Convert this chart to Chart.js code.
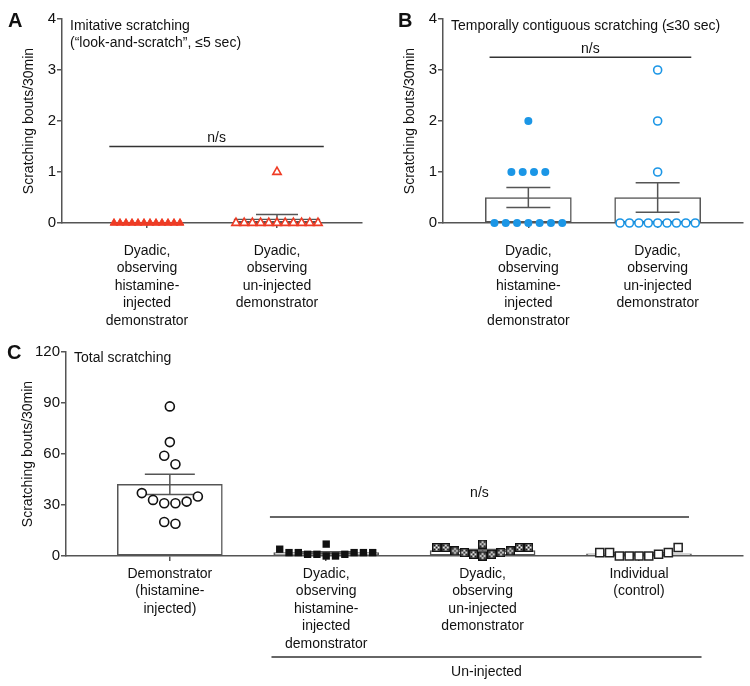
<!DOCTYPE html>
<html>
<head>
<meta charset="utf-8">
<script src="https://cdn.jsdelivr.net/npm/chart.js@4.4.1/dist/chart.umd.min.js"></script>
<style>
  body { margin: 0; background: #fff; }
  #wrap { position: relative; width: 750px; height: 686px; }
  .panel { position: absolute; }
</style>
</head>
<body>
<div id="wrap">
  <div class="panel" style="left:0;top:0;width:375px;height:330px"><canvas id="chart-a"></canvas></div>
  <div class="panel" style="left:375px;top:0;width:375px;height:330px"><canvas id="chart-b"></canvas></div>
  <div class="panel" style="left:0;top:330px;width:750px;height:356px"><canvas id="chart-c"></canvas></div>
</div>
<script>
// category labels
const dyadicHist = ['Dyadic,', 'observing', 'histamine-', 'injected', 'demonstrator'];
const dyadicUninj = ['Dyadic,', 'observing', 'un-injected', 'demonstrator'];
const demoLabel = ['Demonstrator', '(histamine-', 'injected)'];
const indivLabel = ['Individual', '(control)'];

// scratching bouts per animal
const imitativeHist = [0, 0, 0, 0, 0, 0, 0, 0, 0, 0, 0, 0];
const imitativeUninj = [0, 0, 0, 0, 0, 0, 1, 0, 0, 0, 0, 0];
const contiguousHist = [0, 0, 0, 1, 0, 2, 0, 1, 1, 0, 1, 0];
const contiguousUninj = [0, 0, 0, 0, 3, 2, 1, 0, 0, 0, 0, 0];
const totalDemo = [37, 33, 31, 19, 88, 67, 54, 59, 31, 20, 32, 35];
const totalHist = [4, 2, 2, 1, 1, 7, 0, 0, 1, 2, 2, 2];
const totalUninj = [5, 5, 3, 2, 1, 0, 7, 1, 2, 3, 5, 5];
const totalIndiv = [2, 2, 0, 0, 0, 0, 1, 2, 5];

const ticksAB = [0, 1, 2, 3, 4];
const ticksC = [0, 30, 60, 90, 120];

const FONT = "'Liberation Sans', Arial, sans-serif";
const AXIS = '#555';
const RED = '#ef3b24';
const BLUE = '#1b96e6';

function mean(a) { return a.reduce((s, v) => s + v, 0) / a.length; }
function sem(a) {
    const m = mean(a);
    const v = a.reduce((s, x) => s + (x - m) * (x - m), 0) / (a.length - 1);
    return Math.sqrt(v / a.length);
}

// prism-like scatter: values close in y share a row, rows are centred on the category
function swarm(values, center, gap, rowGap, rightFirst) {
    const order = values.map((v, i) => i).sort((a, b) => values[a] - values[b]);
    const rows = [];
    order.forEach(i => {
        const row = rows[rows.length - 1];
        if (row && values[i] - values[row[0]] < rowGap) row.push(i);
        else rows.push([i]);
    });
    const pts = [];
    rows.forEach(row => {
        const slots = row.map((_, k) => k - (row.length - 1) / 2);
        slots.sort((a, b) => Math.abs(a) - Math.abs(b) || (rightFirst ? b - a : a - b));
        row.forEach((i, k) => pts.push({ x: center + slots[k] * gap, y: values[i] }));
    });
    return pts;
}

function checkerMark(size) {
    const c = document.createElement('canvas');
    c.width = c.height = size;
    const g = c.getContext('2d');
    g.fillStyle = '#111';
    g.fillRect(0, 0, size, size);
    g.fillStyle = '#fff';
    g.fillRect(1.5, 1.5, size - 3, size - 3);
    g.fillStyle = '#111';
    const s = (size - 3) / 3;
    [[0, 0], [2, 0], [1, 1], [0, 2], [2, 2]].forEach(([i, j]) => g.fillRect(1.5 + i * s, 1.5 + j * s, s, s));
    return c;
}

function makePanel(id, p) {
    const groups = p.groups;

    const errorBars = {
        id: 'errorBars',
        afterDatasetDraw(chart, args) {
            if (args.index !== 0) return;
            const { ctx, scales: { x, y } } = chart;
            ctx.save();
            ctx.strokeStyle = AXIS;
            ctx.lineWidth = 1.5;
            groups.forEach((g, i) => {
                const m = mean(g.values), e = sem(g.values);
                if (e === 0) return;
                const cx = x.getPixelForValue(i + 1);
                const top = y.getPixelForValue(m + e), bot = y.getPixelForValue(m - e);
                ctx.beginPath();
                ctx.moveTo(cx, top); ctx.lineTo(cx, bot);
                ctx.moveTo(cx - p.cap, top); ctx.lineTo(cx + p.cap, top);
                ctx.moveTo(cx - p.cap, bot); ctx.lineTo(cx + p.cap, bot);
                ctx.stroke();
            });
            ctx.restore();
        }
    };

    const notes = {
        id: 'notes',
        afterDraw(chart) {
            const { ctx, scales: { x, y }, chartArea } = chart;
            ctx.save();
            ctx.fillStyle = '#111';
            ctx.textBaseline = 'middle';
            ctx.font = 'bold 20px ' + FONT;
            ctx.textAlign = 'left';
            ctx.fillText(p.letter, p.letterX, p.letterY);
            ctx.font = '14px ' + FONT;
            p.title.forEach((t, i) => ctx.fillText(t, chartArea.left + 8, p.titleY + i * 17.5));

            ctx.strokeStyle = '#333';
            ctx.lineWidth = 1.5;
            ctx.textAlign = 'center';
            p.brackets.forEach(b => {
                const x0 = x.getPixelForValue(b.from), x1 = x.getPixelForValue(b.to);
                const yy = b.value === undefined ? chartArea.bottom + b.below : y.getPixelForValue(b.value);
                ctx.beginPath();
                ctx.moveTo(x0, yy); ctx.lineTo(x1, yy);
                ctx.stroke();
                ctx.fillText(b.label, (x0 + x1) / 2, yy + b.textDy);
            });
            ctx.restore();
        }
    };

    const datasets = [{
        type: 'bar',
        data: groups.map((g, i) => ({ x: i + 1, y: mean(g.values) })),
        backgroundColor: '#fff',
        borderColor: AXIS,
        borderWidth: 1.5,
        borderSkipped: false,
        barThickness: p.barWidth,
        clip: false,
        order: 2
    }];
    groups.forEach((g, i) => datasets.push(Object.assign({
        type: 'scatter',
        data: g.values.map(v => ({ x: i + 1, y: v })),
        clip: false,
        order: 1
    }, g.style)));

    const chart = new Chart(document.getElementById(id), {
        type: 'bar',
        data: { datasets },
        options: {
            responsive: true,
            maintainAspectRatio: false,
            animation: false,
            events: [],
            layout: { padding: p.padding },
            plugins: { legend: { display: false }, tooltip: { enabled: false } },
            scales: {
                x: {
                    type: 'linear',
                    min: p.xMin, max: p.xMax,
                    offset: false,
                    afterFit: s => { s.height = p.xHeight; },
                    afterBuildTicks: s => { s.ticks = p.labels.map((_, i) => ({ value: i + 1 })); },
                    border: { color: AXIS, width: 1.5 },
                    grid: { offset: false, drawOnChartArea: false, tickLength: 5, color: AXIS, lineWidth: 1.5 },
                    ticks: {
                        autoSkip: false, maxRotation: 0, padding: p.xPad, color: '#111',
                        font: { family: FONT, size: 14, lineHeight: 1.25 },
                        callback: v => p.labels[v - 1]
                    }
                },
                y: {
                    min: p.yTicks[0], max: p.yTicks[p.yTicks.length - 1],
                    afterFit: s => { s.width = p.yWidth; },
                    afterBuildTicks: s => { s.ticks = p.yTicks.map(v => ({ value: v })); },
                    border: { color: AXIS, width: 1.5 },
                    grid: { drawOnChartArea: false, tickLength: 5, color: AXIS, lineWidth: 1.5 },
                    ticks: { padding: 1, color: '#111', font: { family: FONT, size: 15 } },
                    title: {
                        display: true, text: 'Scratching bouts/30min', color: '#111',
                        font: { family: FONT, size: 14 }, padding: { top: p.yTitlePad, bottom: 0 }
                    }
                }
            }
        },
        plugins: [errorBars, notes]
    });

    // spread the dots once the scales know their pixel size
    const xs = chart.scales.x, ys = chart.scales.y;
    const pxX = xs.getPixelForValue(1) - xs.getPixelForValue(0);
    const pxY = ys.getPixelForValue(0) - ys.getPixelForValue(1);
    groups.forEach((g, i) => {
        chart.data.datasets[i + 1].data = swarm(g.values, i + 1, g.gap / pxX, 11 / pxY, g.rightFirst);
    });
    chart.update('none');
    return chart;
}

makePanel('chart-a', {
    letter: 'A', letterX: 8, letterY: 21,
    title: ['Imitative scratching', '(\u201clook-and-scratch\u201d, \u22645 sec)'], titleY: 26,
    labels: [dyadicHist, dyadicUninj],
    yTicks: ticksAB,
    xMin: 0.346, xMax: 2.654,
    padding: { top: 19, right: 13, left: 0, bottom: 0 },
    yWidth: 62, xHeight: 107, xPad: 14, yTitlePad: 21,
    barWidth: 86, cap: 21,
    brackets: [{ from: 0.71, to: 2.36, value: 1.5, label: 'n/s', textDy: -8 }],
    groups: [
        { values: imitativeHist, gap: 6, style: { pointStyle: 'triangle', pointRadius: 4.5, pointBackgroundColor: RED, pointBorderColor: RED, pointBorderWidth: 1 } },
        { values: imitativeUninj, gap: 8.2, style: { pointStyle: 'triangle', pointRadius: 4.8, pointBackgroundColor: '#fff', pointBorderColor: RED, pointBorderWidth: 1.6 } }
    ]
});

makePanel('chart-b', {
    letter: 'B', letterX: 23, letterY: 21,
    title: ['Temporally contiguous scratching (\u226430 sec)'], titleY: 26,
    labels: [dyadicHist, dyadicUninj],
    yTicks: ticksAB,
    xMin: 0.34, xMax: 2.66,
    padding: { top: 19, right: 7, left: 0, bottom: 0 },
    yWidth: 68, xHeight: 107, xPad: 14, yTitlePad: 27,
    barWidth: 86, cap: 22,
    brackets: [{ from: 0.70, to: 2.26, value: 3.25, label: 'n/s', textDy: -8 }],
    groups: [
        { values: contiguousHist, gap: 11.3, style: { pointStyle: 'circle', pointRadius: 4, pointBackgroundColor: BLUE, pointBorderColor: BLUE, pointBorderWidth: 0 } },
        { values: contiguousUninj, gap: 9.4, style: { pointStyle: 'circle', pointRadius: 4, pointBackgroundColor: '#fff', pointBorderColor: BLUE, pointBorderWidth: 1.6 } }
    ]
});

makePanel('chart-c', {
    letter: 'C', letterX: 7, letterY: 23,
    title: ['Total scratching'], titleY: 28,
    labels: [demoLabel, dyadicHist, dyadicUninj, indivLabel],
    yTicks: ticksC,
    xMin: 0.336, xMax: 4.664,
    padding: { top: 22, right: 6, left: 0, bottom: 0 },
    yWidth: 66, xHeight: 130, xPad: 4, yTitlePad: 20,
    barWidth: 105, cap: 25,
    brackets: [
        { from: 1.64, to: 4.32, value: 23, label: 'n/s', textDy: -24 },
        { from: 1.65, to: 4.40, below: 101, label: 'Un-injected', textDy: 15 }
    ],
    groups: [
        { values: totalDemo, gap: 11.2, rightFirst: true, style: { pointStyle: 'circle', pointRadius: 4.5, pointBackgroundColor: '#fff', pointBorderColor: '#111', pointBorderWidth: 1.6 } },
        { values: totalHist, gap: 9.3, rightFirst: true, style: { pointStyle: 'rect', pointRadius: 5.2, pointBackgroundColor: '#111', pointBorderColor: '#111', pointBorderWidth: 0 } },
        { values: totalUninj, gap: 9.2, style: { pointStyle: checkerMark(9), pointRadius: 5 } },
        { values: totalIndiv, gap: 9.8, style: { pointStyle: 'rect', pointRadius: 5.7, pointBackgroundColor: '#fff', pointBorderColor: '#222', pointBorderWidth: 1.5 } }
    ]
});
</script>
</body>
</html>
